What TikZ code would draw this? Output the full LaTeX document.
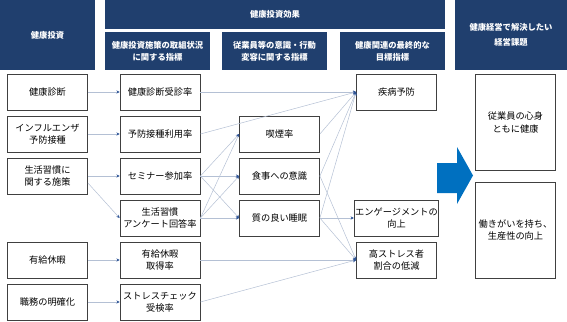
\documentclass[tikz,border=0pt]{standalone}
\usepackage{fontspec}
\setmainfont{Noto Sans CJK JP}
\usetikzlibrary{arrows.meta}
\definecolor{hdrblue}{HTML}{203F6E}
\definecolor{boxgray}{HTML}{404040}
\definecolor{linkblue}{HTML}{B4C0D4}
\definecolor{tipblue}{HTML}{2F5597}
\definecolor{bigarrow}{HTML}{0070C0}

\begin{document}
\begin{tikzpicture}[x=1pt,y=-1pt,
    hdr/.style={fill=hdrblue,text=white,align=center,inner sep=0pt,
      font=\bfseries\fontsize{8.3}{12}\selectfont},
    item/.style={draw=boxgray,fill=white,line width=0.8pt,align=center,
      minimum width=80pt,minimum height=36pt,inner sep=1pt,
      font=\fontsize{9.2}{12.5}\selectfont},
    goal/.style={item,minimum height=96pt},
    link/.style={draw=linkblue,line width=0.5pt,
      -{Stealth[length=3.2pt,width=3.2pt,color=tipblue]}}]
    \useasboundingbox (0,0) rectangle (567,321);
    \def\xa{47.5}
    \def\xb{160}
    \def\xc{279.5}
    \def\xd{396.5}
    \node[hdr,minimum width=95pt,minimum height=70pt] (hinv) at (47.5,35) {健康投資};
    \node[hdr,minimum width=340pt,minimum height=29pt] (heff) at (275,14.5) {健康投資効果};
    \node[hdr,minimum width=105pt,minimum height=38pt] (hsub1) at (157.5,51) {健康投資施策の取組状況\\に関する指標};
    \node[hdr,minimum width=105pt,minimum height=38pt] (hsub2) at (274.5,51) {従業員等の意識・行動\\変容に関する指標};
    \node[hdr,minimum width=105pt,minimum height=38pt] (hsub3) at (392.5,51) {健康関連の最終的な\\目標指標};
    \node[hdr,minimum width=112pt,minimum height=70pt,font=\bfseries\fontsize{8.3}{15}\selectfont] (hmgt) at (511,35) {健康経営で解決したい\\経営課題};
    \node[item] (s1) at (\xa,92) {健康診断};
    \node[item] (s2) at (\xa,134) {インフルエンザ\\予防接種};
    \node[item] (s3) at (\xa,176) {生活習慣に\\関する施策};
    \node[item] (s4) at (\xa,260) {有給休暇};
    \node[item] (s5) at (\xa,302) {職務の明確化};
    \node[item] (p1) at (\xb,92) {健康診断受診率};
    \node[item] (p2) at (\xb,134) {予防接種利用率};
    \node[item] (p3) at (\xb,176) {セミナー参加率};
    \node[item] (p4) at (\xb,218) {生活習慣\\アンケート回答率};
    \node[item] (p5) at (\xb,260) {有給休暇\\取得率};
    \node[item] (p6) at (\xb,302) {ストレスチェック\\受検率};
    \node[item] (m1) at (\xc,134) {喫煙率};
    \node[item] (m2) at (\xc,176) {食事への意識};
    \node[item] (m3) at (\xc,218) {質の良い睡眠};
    \node[item] (d1) at (\xd,92) {疾病予防};
    \node[item] (d2) at (\xd,218) {エンゲージメントの\\向上};
    \node[item] (d3) at (\xd,260) {高ストレス者\\割合の低減};
    \node[goal] (g1) at (515.5,122.5) {従業員の心身\\ともに健康};
    \node[goal] (g2) at (515.5,230) {働きがいを持ち、\\生産性の向上};
    \fill[bigarrow] (437,163) -- (457,163) -- (457,147) -- (473,175.5)
      -- (457,204) -- (457,193) -- (437,193) -- cycle;
    \draw[link] (s1.east) -- (p1.west);
    \draw[link] (s2.east) -- (p2.west);
    \draw[link] (s3.east) -- (p3.west);
    \draw[link] ([yshift=-7pt]s3.east) -- (p4.west);
    \draw[link] (s4.east) -- (p5.west);
    \draw[link] (s5.east) -- (p6.west);
    \draw[link] (p1.east) -- (d1.west);
    \draw[link] (p2.east) -- (d1.west);
    \draw[link] (p3.east) -- (m1.west);
    \draw[link] (p3.east) -- (m2.west);
    \draw[link] (p3.east) -- (m3.west);
    \draw[link] (p4.east) -- (m1.west);
    \draw[link] (p4.east) -- (m2.west);
    \draw[link] (p4.east) -- (m3.west);
    \draw[link] (p5.east) -- (d3.west);
    \draw[link] (p6.east) -- (d3.west);
    \draw[link] (m1.east) -- (d1.west);
    \draw[link] (m2.east) -- (d1.west);
    \draw[link] (m2.east) -- (d3.west);
    \draw[link] (m3.east) -- (d1.west);
    \draw[link] (m3.east) -- (d2.west);
    \draw[link] (m3.east) -- (d3.west);
\end{tikzpicture}
\end{document}
